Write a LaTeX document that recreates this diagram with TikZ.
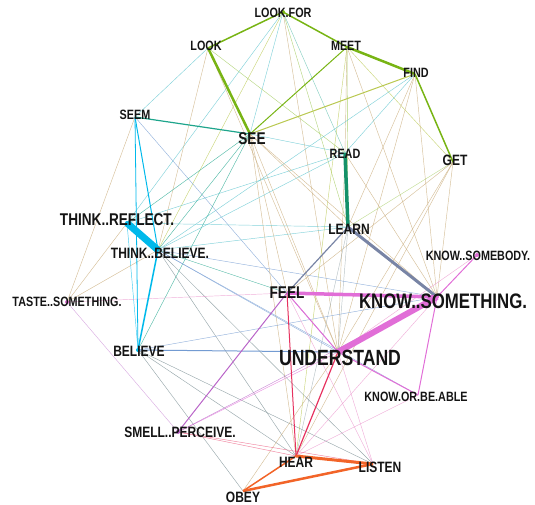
\documentclass[tikz,border=0pt]{standalone}
\usepackage{fontspec}
\newfontfamily\lblfont{Liberation Sans}[FakeStretch=0.8]
\definecolor{cgreen}{RGB}{120,180,20}
\definecolor{cyel}{RGB}{185,200,80}
\definecolor{cteal}{RGB}{30,165,140}
\definecolor{cdteal}{RGB}{20,145,105}
\definecolor{ccyan}{RGB}{0,185,235}
\definecolor{cslate}{RGB}{120,132,165}
\definecolor{cmag}{RGB}{225,110,215}
\definecolor{cviol}{RGB}{185,100,200}
\definecolor{cred}{RGB}{230,50,95}
\definecolor{corange}{RGB}{242,100,40}
\definecolor{ctan}{RGB}{200,170,120}
\definecolor{cblue}{RGB}{115,155,210}
\definecolor{clcyan}{RGB}{90,195,205}
\definecolor{cgrey}{RGB}{120,140,145}
\definecolor{cpink}{RGB}{235,150,205}
\tikzset{
  e/.style={line width=0.45pt, draw opacity=0.75},
  lbl/.style={inner sep=0pt, text=black!92, font=\lblfont\bfseries},
  sA/.style={lbl, font=\lblfont\bfseries\fontsize{13.5}{14}\selectfont},
  sB/.style={lbl, font=\lblfont\bfseries\fontsize{15}{16}\selectfont},
  sC/.style={lbl, font=\lblfont\bfseries\fontsize{17}{18}\selectfont},
  sD/.style={lbl, font=\lblfont\bfseries\fontsize{21}{22}\selectfont},
  dot/.style={circle, inner sep=0pt, minimum size=4pt},
}
\begin{document}
\begin{tikzpicture}[x=1pt,y=-1pt]
\useasboundingbox (0,0) rectangle (535,504);
% node positions
\coordinate (lf) at (283,12);
\coordinate (lk) at (208,48);
\coordinate (mt) at (347,47);
\coordinate (fd) at (415,74);
\coordinate (sm) at (135,117);
\coordinate (se) at (250,134);
\coordinate (rd) at (345,153);
\coordinate (gt) at (453,162);
\coordinate (ln) at (348,227);
\coordinate (tr) at (127,223);
\coordinate (tb) at (158,250);
\coordinate (ks) at (477,255);
\coordinate (fl) at (287,293);
\coordinate (kt) at (437,297);
\coordinate (ts) at (67,302);
\coordinate (bl) at (138,350);
\coordinate (un) at (338,352);
\coordinate (ka) at (418,395);
\coordinate (sp) at (178,432);
\coordinate (hr) at (296,456);
\coordinate (ls) at (373,464);
\coordinate (ob) at (243,491);
% thin edges
\draw[e,clcyan] (lf) -- (se);
\draw[e,clcyan] (lf) -- (tr);
\draw[e,cteal!70] (lf) -- (rd);
\draw[e,cgreen!70] (lf) -- (ln);
\draw[e,cyel] (lf) -- (tb);
\draw[e,ctan] (lf) -- (un);
\draw[e,clcyan] (lk) -- (sm);
\draw[e,cgreen!70] (lk) -- (rd);
\draw[e,ctan] (lk) -- (tb);
\draw[e,ctan] (lk) -- (un);
\draw[e,cgreen!80] (mt) -- (ln);
\draw[e,ctan] (mt) -- (rd);
\draw[e,ctan] (mt) -- (kt);
\draw[e,cyel] (mt) -- (gt);
\draw[e,cyel] (mt) -- (hr);
\draw[e,clcyan] (fd) -- (rd);
\draw[e,clcyan] (fd) -- (tb);
\draw[e,ctan] (fd) -- (un);
\draw[e,ctan] (fd) -- (kt);
\draw[e,ctan] (fd) -- (ln);
\draw[e,cgreen!60] (gt) -- (ln);
\draw[e,ctan] (gt) -- (un);
\draw[e,ctan] (gt) -- (kt);
\draw[e,ctan] (gt) -- (fl);
\draw[e,ctan] (gt) -- (hr);
\draw[e,cblue] (sm) -- (un);
\draw[e,ctan] (sm) -- (ts);
\draw[e,cteal] (se) -- (tr);
\draw[e,cteal] (se) -- (tb);
\draw[e,cteal] (se) -- (bl);
\draw[e,clcyan] (se) -- (rd);
\draw[e,ctan] (se) -- (ln);
\draw[e,ctan] (se) -- (un);
\draw[e,ctan] (se) -- (kt);
\draw[e,ctan] (se) -- (hr);
\draw[e,ctan] (se) -- (fl);
\draw[e,clcyan] (rd) -- (tr);
\draw[e,clcyan] (rd) -- (tb);
\draw[e,ctan] (rd) -- (un);
\draw[e,ctan] (rd) -- (kt);
\draw[e,clcyan] (ln) -- (tr);
\draw[e,clcyan] (ln) -- (tb);
\draw[e,cgrey!70] (ln) -- (un);
\draw[e,cgrey!70] (ln) -- (hr);
\draw[e,ccyan] (tr) -- (bl);
\draw[e,ctan] (tr) -- (ts);
\draw[e,ctan] (tb) -- (ts);
\draw[e,cblue] (tb) -- (un);
\draw[e,cblue] (tb) -- (kt);
\draw[e,cblue] (tb) -- (ka);
\draw[e,cgrey] (tb) -- (hr);
\draw[e,cgrey] (tb) -- (ls);
\draw[e,cteal] (tb) -- (fl);
\draw[e,cpink] (ts) -- (fl);
\draw[e,cviol!70] (ts) -- (sp);
\draw[e,cblue] (bl) -- (kt);
\draw[e,cgrey] (bl) -- (ob);
\draw[e,cgrey] (bl) -- (hr);
\draw[e,cgrey] (bl) -- (ls);
\draw[e,cpink] (fl) -- (ls);
\draw[e,cpink] (un) -- (ls);
\draw[e,cmag] (un) -- (sp);
\draw[e,ctan] (un) -- (ob);
\draw[e,cpink] (un) -- (ks);
\draw[e,cpink] (kt) -- (hr);
\draw[e,cviol] (kt) -- (sp);
\draw[e,cpink] (ka) -- (hr);
\draw[e,cred!80] (sp) -- (hr);
\draw[e,cred!80] (sp) -- (ls);
% medium / thick edges
\draw[cgreen,line width=1.5pt] (lf) -- (lk);
\draw[cgreen,line width=1.5pt] (lf) -- (mt);
\draw[cgreen,line width=2.5pt] (mt) -- (fd);
\draw[cgreen,line width=1.5pt] (fd) -- (gt);
\draw[cgreen,line width=2.5pt] (lk) -- (se);
\draw[cgreen,line width=1pt] (se) -- (mt);
\draw[cyel,line width=1pt] (se) -- (fd);
\draw[cteal,line width=1.2pt] (sm) -- (se);
\draw[ccyan,line width=1pt] (sm) -- (tb);
\draw[ccyan,line width=0.8pt] (sm) -- (bl);
\draw[cdteal,line width=3.5pt] (rd) -- (ln);
\draw[ccyan,line width=7pt] (tr) -- (tb);
\draw[ccyan,line width=1.5pt] (tb) -- (bl);
\draw[cslate,line width=3pt] (ln) -- (kt);
\draw[cslate,line width=1.2pt] (ln) -- (fl);
\draw[cblue,line width=1pt] (bl) -- (un);
\draw[cmag,line width=1pt] (fl) -- (un);
\draw[cviol,line width=1pt] (fl) -- (sp);
\draw[cred,line width=1pt] (fl) -- (hr);
\draw[cred,line width=1.2pt] (un) -- (hr);
\draw[cmag,line width=1pt] (un) -- (ka);
\draw[cmag,line width=1pt] (kt) -- (ks);
\draw[cmag,line width=1pt] (kt) -- (ka);
\draw[cmag,line width=3.5pt] (fl) -- (kt);
\draw[cmag,line width=6pt] (un) -- (kt);
\draw[corange,line width=1.5pt] (ob) -- (hr);
\draw[corange,line width=3pt] (hr) -- (ls);
\draw[corange,line width=2.5pt] (ob) -- (ls);
% dots
\node[dot,fill=cgreen] (d-lf) at (lf) {};
\node[dot,fill=cmag] (d-ts) at (ts) {};
\node[dot,fill=cmag] (d-ks) at (ks) {};
\node[dot,fill=cmag] (d-kt) at (kt) {};
\node[dot,fill=cviol] (d-sp) at (sp) {};
\node[dot,fill=ccyan] (d-tr) at (tr) {};
\node[dot,fill=ccyan] (d-bl) at (bl) {};
% labels
\node[sA] (l-lf) at (283,13) {LOOK.FOR};
\node[sA] (l-lk) at (206,46) {LOOK};
\node[sA] (l-mt) at (346,46) {MEET};
\node[sA] (l-fd) at (416,73) {FIND};
\node[sA] (l-sm) at (135,115) {SEEM};
\node[sC] (l-se) at (252,139) {SEE};
\node[sA] (l-rd) at (345,154) {READ};
\node[sB] (l-gt) at (455,160) {GET};
\node[sB] (l-ln) at (349,229) {LEARN};
\node[sC] (l-tr) at (117,220) {THINK..REFLECT.};
\node[sB] (l-tb) at (160,253) {THINK..BELIEVE.};
\node[sA] (l-ks) at (478,256) {KNOW..SOMEBODY.};
\node[sC] (l-fl) at (287,293) {FEEL};
\node[sD] (l-kt) at (443,301) {KNOW..SOMETHING.};
\node[sA] (l-ts) at (67,302) {TASTE..SOMETHING.};
\node[sB] (l-bl) at (139,351) {BELIEVE};
\node[lbl, font=\lblfont\bfseries\fontsize{22}{23}\selectfont] (l-un) at (340,358) {UNDERSTAND};
\node[sA] (l-ka) at (416,397) {KNOW.OR.BE.ABLE};
\node[sB] (l-sp) at (180,432) {SMELL..PERCEIVE.};
\node[sB] (l-hr) at (296,462) {HEAR};
\node[sB] (l-ls) at (380,467) {LISTEN};
\node[sB] (l-ob) at (243,497) {OBEY};
\end{tikzpicture}
\end{document}
